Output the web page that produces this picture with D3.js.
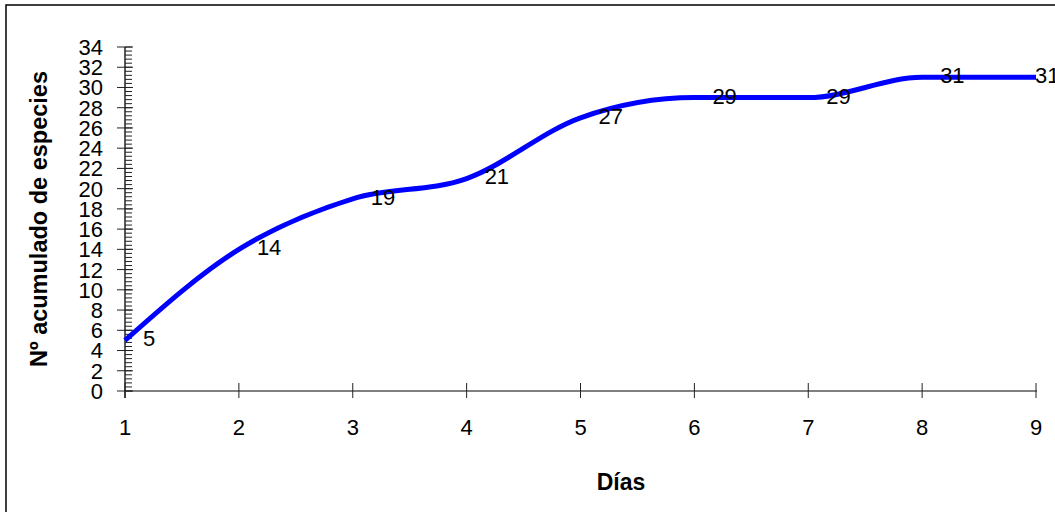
<!DOCTYPE html>
<html>
<head>
<meta charset="utf-8">
<script src="https://cdn.jsdelivr.net/npm/d3@7"></script>
<style>
  html, body { margin: 0; padding: 0; background: #fff; }
  svg { display: block; font-family: "Liberation Sans", Arial, sans-serif; }
</style>
</head>
<body>
<svg id="chart" width="1055" height="512"></svg>
<script>
// Cumulative species count per sampling day
const days = [1, 2, 3, 4, 5, 6, 7, 8, 9];
const especies = [5, 14, 19, 21, 27, 29, 29, 31, 31];
const yTicks = d3.range(0, 35, 2);
const yMinorTicks = d3.range(0, 34.01, 0.4);

const svg = d3.select("#chart");
const W = 1055, H = 512;

// Outer frame
svg.append("rect")
  .attr("x", 6).attr("y", 5)
  .attr("width", W + 10).attr("height", H + 10)
  .attr("fill", "#fff").attr("stroke", "#000").attr("stroke-width", 1.5);

const x = d3.scaleLinear().domain([1, 9]).range([125, 1036]);
const y = d3.scaleLinear().domain([0, 34]).range([391, 47]);

// X axis
const xAxis = svg.append("g").attr("transform", `translate(0,${y(0)})`);
xAxis.append("line")
  .attr("x1", x(1)).attr("x2", x(9) + 1)
  .attr("stroke", "#808080").attr("stroke-width", 2);
xAxis.selectAll("line.tick").data(days).join("line")
  .attr("class", "tick")
  .attr("x1", d => x(d)).attr("x2", d => x(d))
  .attr("y1", -8).attr("y2", 7)
  .attr("stroke", "#222").attr("stroke-width", 1);
xAxis.selectAll("text").data(days).join("text")
  .attr("x", d => x(d)).attr("y", 44)
  .attr("text-anchor", "middle")
  .attr("font-size", 22)
  .text(d => d);

// Y axis
const yAxis = svg.append("g").attr("transform", `translate(${x(1)},0)`);
yAxis.selectAll("line.minor").data(yMinorTicks).join("line")
  .attr("class", "minor")
  .attr("x1", 0).attr("x2", 7)
  .attr("y1", d => y(d)).attr("y2", d => y(d))
  .attr("stroke", "#222").attr("stroke-width", 1);
yAxis.selectAll("line.major").data(yTicks).join("line")
  .attr("class", "major")
  .attr("x1", -8).attr("x2", 8)
  .attr("y1", d => y(d)).attr("y2", d => y(d))
  .attr("stroke", "#222").attr("stroke-width", 1);
yAxis.append("line")
  .attr("x1", 0).attr("x2", 0)
  .attr("y1", y(34)).attr("y2", y(0) + 7)
  .attr("stroke", "#222").attr("stroke-width", 1.5);
yAxis.selectAll("text").data(yTicks).join("text")
  .attr("x", -22).attr("y", d => y(d))
  .attr("dy", "0.36em")
  .attr("text-anchor", "end")
  .attr("font-size", 22)
  .text(d => d);

// Axis titles
svg.append("text")
  .attr("transform", `translate(47,219) rotate(-90)`)
  .attr("text-anchor", "middle")
  .attr("font-size", 23.5).attr("font-weight", "bold")
  .text("Nº acumulado de especies");
svg.append("text")
  .attr("x", 621).attr("y", 490)
  .attr("text-anchor", "middle")
  .attr("font-size", 23).attr("font-weight", "bold")
  .text("Días");

// Smoothed series line
const pts = days.map((d, i) => [d, especies[i]]);
const line = d3.line()
  .x(d => x(d[0])).y(d => y(d[1]))
  .curve(d3.curveMonotoneX);
svg.append("path")
  .datum(pts)
  .attr("d", line)
  .attr("fill", "none")
  .attr("stroke", "#0000ff")
  .attr("stroke-width", 5)
  .attr("stroke-linejoin", "round");

// Value labels to the right of each point
svg.selectAll("text.val").data(pts).join("text")
  .attr("class", "val")
  .attr("x", d => Math.min(x(d[0]) + 18, 1035))
  .attr("y", d => y(d[1]) - 2)
  .attr("dy", "0.36em")
  .attr("font-size", 22)
  .text(d => d[1]);
</script>
</body>
</html>
